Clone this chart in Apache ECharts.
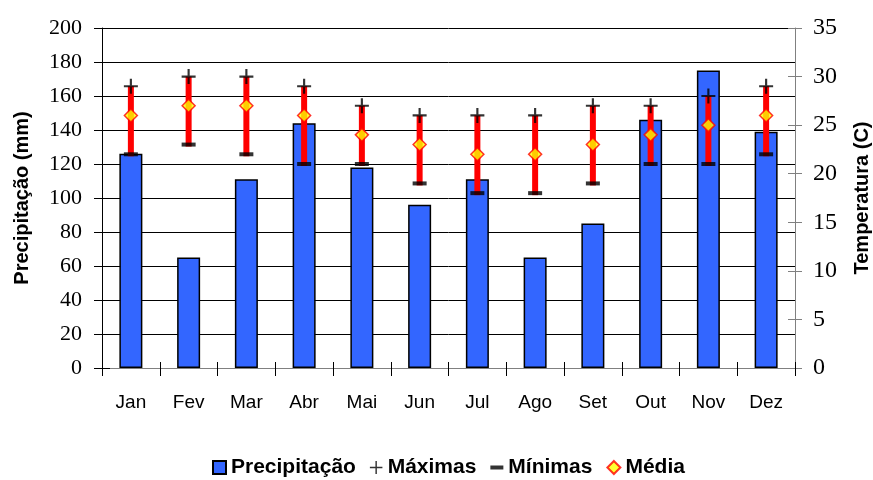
<!DOCTYPE html>
<html>
<head>
<meta charset="utf-8">
<script src="https://cdn.jsdelivr.net/npm/echarts@6/dist/echarts.min.js"></script>
<style>
html,body{margin:0;padding:0;background:#fff;}
#chart{width:873px;height:480px;}
</style>
</head>
<body>
<div id="chart"></div>
<script>
const months = ['Jan','Fev','Mar','Abr','Mai','Jun','Jul','Ago','Set','Out','Nov','Dez'];
const precipitacao = [126, 65, 111, 144, 118, 96, 111, 65, 85, 146, 175, 139];
const maximas = [29, 30, 30, 29, 27, 26, 26, 26, 27, 27, 28, 29];
const minimas = [22, 23, 22, 21, 21, 19, 18, 18, 19, 21, 21, 22];
const media = [26, 27, 27, 26, 24, 23, 22, 22, 23, 24, 25, 26];
const precTicks = {min: 0, max: 200, interval: 20};
const tempTicks = {min: 0, max: 35, interval: 5};

const sans = 'Liberation Sans, Arial, sans-serif';
const serif = 'Liberation Serif, Times New Roman, serif';

const rangeData = months.map((m, i) => [i, minimas[i], maximas[i]]);

const chart = echarts.init(document.getElementById('chart'), null, {renderer: 'canvas'});
chart.setOption({
  animation: false,
  backgroundColor: '#fff',
  grid: {left: 102, right: 78, top: 28, bottom: 112, containLabel: false, outerBoundsMode: 'none'},
  legend: {
    top: 455,
    left: 210,
    padding: 2,
    itemWidth: 13,
    itemHeight: 13,
    itemGap: 14,
    textStyle: {fontFamily: sans, fontWeight: 'bold', fontSize: 21, color: '#000'},
    data: [
      {name: 'Precipitação', icon: 'rect'},
      {name: 'Máximas', icon: 'path://M0,6L13,6L13,7.5L0,7.5ZM5.75,0L7.25,0L7.25,13.5L5.75,13.5Z'},
      {name: 'Mínimas', icon: 'path://M0,0L13,0L13,4L0,4Z'},
      {name: 'Média', icon: 'diamond'}
    ]
  },
  xAxis: [
    {
      type: 'category', data: months, position: 'bottom',
      axisLine: {lineStyle: {color: '#808080', width: 1}},
      axisTick: {show: true, length: 8, lineStyle: {color: '#000'}},
      axisLabel: {fontFamily: sans, fontSize: 19, color: '#000', margin: 25},
      splitLine: {show: false}
    },
    {
      type: 'category', data: months, position: 'bottom',
      axisLine: {show: false},
      axisTick: {show: true, inside: true, length: 6, lineStyle: {color: '#000'}},
      axisLabel: {show: false},
      splitLine: {show: false}
    }
  ],
  yAxis: [
    {
      type: 'value', position: 'left', min: precTicks.min, max: precTicks.max, interval: precTicks.interval,
      name: 'Precipitação (mm)', nameLocation: 'middle', nameRotate: 90, nameGap: 70,
      nameTextStyle: {fontFamily: sans, fontWeight: 'bold', fontSize: 20, color: '#000'},
      axisLine: {show: true, lineStyle: {color: '#000', width: 1}},
      axisTick: {show: true, length: 8, lineStyle: {color: '#000'}},
      axisLabel: {fontFamily: serif, fontSize: 22, color: '#000', margin: 20},
      splitLine: {show: true, lineStyle: {color: '#000', width: 1}}
    },
    {
      type: 'value', position: 'right', min: tempTicks.min, max: tempTicks.max, interval: tempTicks.interval,
      name: 'Temperatura (C)', nameLocation: 'middle', nameRotate: 90, nameGap: 57,
      nameTextStyle: {fontFamily: sans, fontWeight: 'bold', fontSize: 20, color: '#000'},
      axisLine: {show: true, lineStyle: {color: '#808080', width: 1}},
      axisTick: {show: true, length: 7, lineStyle: {color: '#808080'}},
      axisLabel: {fontFamily: serif, fontSize: 24, color: '#000', margin: 18},
      splitLine: {show: false}
    },
    {
      type: 'value', position: 'left', min: precTicks.min, max: precTicks.max, interval: precTicks.interval,
      axisLine: {show: false},
      axisTick: {show: true, inside: true, length: 8, lineStyle: {color: '#000'}},
      axisLabel: {show: false}, splitLine: {show: false}
    },
    {
      type: 'value', position: 'right', min: tempTicks.min, max: tempTicks.max, interval: tempTicks.interval,
      axisLine: {show: false},
      axisTick: {show: true, inside: true, length: 7, lineStyle: {color: '#808080'}},
      axisLabel: {show: false}, splitLine: {show: false}
    }
  ],
  series: [
    {
      name: 'Precipitação', type: 'bar', data: precipitacao, yAxisIndex: 0, barWidth: 23,
      itemStyle: {color: '#3366FF', borderColor: '#000', borderWidth: 1.5},
      z: 2
    },
    {
      name: 'range', type: 'custom', yAxisIndex: 1, data: rangeData, z: 3,
      renderItem: function (params, api) {
        const x = api.value(0);
        const lo = api.coord([x, api.value(1)]);
        const hi = api.coord([x, api.value(2)]);
        return {
          type: 'line',
          shape: {x1: lo[0], y1: lo[1] + 2, x2: hi[0], y2: hi[1]},
          style: {stroke: '#FF0000', lineWidth: 6}
        };
      }
    },
    {
      name: 'Máximas', type: 'scatter', yAxisIndex: 1, data: maximas, z: 4,
      symbol: 'path://M0,6L13,6L13,8L0,8ZM5.5,0L7.5,0L7.5,14L5.5,14Z', symbolSize: [14, 15],
      itemStyle: {color: '#000'}
    },
    {
      name: 'Mínimas', type: 'scatter', yAxisIndex: 1, data: minimas, z: 4,
      symbol: 'rect', symbolSize: [14, 4],
      itemStyle: {color: '#000'}
    },
    {
      name: 'Média', type: 'scatter', yAxisIndex: 1, data: media, z: 5,
      symbol: 'diamond', symbolSize: 13,
      itemStyle: {color: '#FFFF00', borderColor: '#FF0000', borderWidth: 1.5}
    }
  ]
});
</script>
</body>
</html>
